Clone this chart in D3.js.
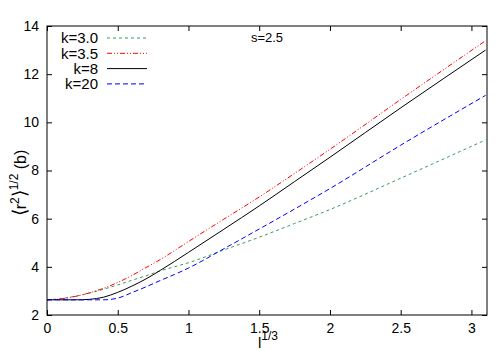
<!DOCTYPE html>
<html>
<head>
<meta charset="utf-8">
<script src="https://cdn.jsdelivr.net/npm/d3@7"></script>
<style>
  html, body { margin: 0; padding: 0; background: #fff; }
  svg { display: block; font-family: "Liberation Sans", Arial, sans-serif; }
</style>
</head>
<body>
<div id="chart"></div>
<script>
// values
const xs     = [0, 0.1, 0.2, 0.3, 0.4, 0.5, 0.6, 0.7, 0.8, 0.9, 1.0, 1.25, 1.5, 1.75, 2.0, 2.5, 3.1];
const k30    = [2.63, 2.68, 2.78, 2.91, 3.07, 3.25, 3.44, 3.63, 3.83, 4.00, 4.17, 4.70, 5.23, 5.80, 6.38, 7.68, 9.27];
const k35    = [2.63, 2.67, 2.77, 2.92, 3.11, 3.35, 3.64, 3.97, 4.30, 4.67, 5.05, 5.98, 6.90, 7.88, 8.88, 10.95, 13.39];
const k8     = [2.63, 2.63, 2.63, 2.65, 2.74, 2.94, 3.20, 3.50, 3.85, 4.22, 4.60, 5.56, 6.53, 7.54, 8.55, 10.60, 13.00];
const k20    = [2.63, 2.63, 2.63, 2.63, 2.63, 2.70, 2.93, 3.17, 3.43, 3.68, 3.95, 4.75, 5.57, 6.40, 7.25, 9.05, 11.12];
const seriesNames = ["k=3.0", "k=3.5", "k=8", "k=20"];
const xTicks = [0, 0.5, 1, 1.5, 2, 2.5, 3];
const yTicks = [2, 4, 6, 8, 10, 12, 14];

const dims = { width: 500, height: 350,
               margin: { top: 26, right: 13, bottom: 35, left: 47 } };

const styles = [
  { color: "#3a9a5e", dash: "3,3" },
  { color: "#ff0000", dash: "5,2,1,2,1,2" },
  { color: "#000000", dash: null },
  { color: "#0000ff", dash: "5,3" }
];
const allSeries = [k30, k35, k8, k20];

const svg = d3.select("#chart").append("svg")
  .attr("width", dims.width)
  .attr("height", dims.height);

const x = d3.scaleLinear()
  .domain([0, 3.11])
  .range([dims.margin.left, dims.width - dims.margin.right]);
const y = d3.scaleLinear()
  .domain([2, 14])
  .range([dims.height - dims.margin.bottom, dims.margin.top]);

const xRange = x.range(), yRange = y.range();
const chartWidth = xRange[1] - xRange[0];
const chartHeight = yRange[0] - yRange[1];

// axes (gnuplot style: inward ticks, mirrored)
let tickLen = 5;
svg.append("g")
  .attr("transform", `translate(0,${yRange[0]})`)
  .call(d3.axisBottom(x).tickValues(xTicks).tickFormat(d3.format("")).tickSize(-tickLen).tickPadding(8))
  .call(g => g.select(".domain").remove())
  .call(g => g.selectAll("text").attr("font-size", 14).attr("fill", "#000"));
svg.append("g")
  .attr("transform", `translate(0,${yRange[1]})`)
  .call(d3.axisTop(x).tickValues(xTicks).tickFormat("").tickSize(-tickLen))
  .call(g => g.select(".domain").remove());
svg.append("g")
  .attr("transform", `translate(${xRange[0]},0)`)
  .call(d3.axisLeft(y).tickValues(yTicks).tickSize(-tickLen).tickPadding(8))
  .call(g => g.select(".domain").remove())
  .call(g => g.selectAll("text").attr("font-size", 14).attr("fill", "#000"));
svg.append("g")
  .attr("transform", `translate(${xRange[1]},0)`)
  .call(d3.axisRight(y).tickValues(yTicks).tickFormat("").tickSize(-tickLen))
  .call(g => g.select(".domain").remove());
svg.selectAll(".tick line").attr("stroke", "#000");

// lines
let line = d3.line()
  .x((d, i) => x(xs[i]))
  .y(d => y(d))
  .curve(d3.curveMonotoneX);

allSeries.forEach((s, i) => {
  svg.append("path")
    .datum(s)
    .attr("fill", "none")
    .attr("stroke", styles[i].color)
    .attr("stroke-width", 1)
    .attr("stroke-dasharray", styles[i].dash)
    .attr("d", line);
});

// border
svg.append("rect")
  .attr("x", xRange[0]).attr("y", yRange[1])
  .attr("width", chartWidth).attr("height", chartHeight)
  .attr("fill", "none").attr("stroke", "#000").attr("stroke-width", 1);

// legend
let legend = svg.append("g").attr("class", "legend");
seriesNames.forEach((name, i) => {
  let ly = 38 + i * 15.3;
  legend.append("text")
    .attr("x", 98).attr("y", ly)
    .attr("dy", "0.35em")
    .attr("text-anchor", "end")
    .attr("font-size", 15)
    .text(name);
  legend.append("line")
    .attr("x1", 107).attr("x2", 147)
    .attr("y1", ly).attr("y2", ly)
    .attr("stroke", styles[i].color)
    .attr("stroke-width", 1)
    .attr("stroke-dasharray", styles[i].dash);
});

svg.append("text")
  .attr("x", 267).attr("y", 42)
  .attr("text-anchor", "middle")
  .attr("font-size", 13)
  .text("s=2.5");

// x label: l^{1/3}
let xl = svg.append("text")
  .attr("x", 258).attr("y", 348)
  .attr("font-size", 15);
xl.append("tspan").text("l");
xl.append("tspan").attr("dy", -8).attr("font-size", 12).text("1/3");

// y label: <r^2>^{1/2} (b)
let yl = svg.append("text")
  .attr("transform", "translate(26,183) rotate(-90)")
  .attr("text-anchor", "middle")
  .attr("font-size", 16);
yl.append("tspan").attr("font-size", 19).text("\u27E8");
yl.append("tspan").text("r");
yl.append("tspan").attr("dy", -7).attr("font-size", 12).text("2");
yl.append("tspan").attr("dy", 7).attr("font-size", 19).text("\u27E9");
yl.append("tspan").attr("dy", -8).attr("font-size", 12).text("1/2");
yl.append("tspan").attr("dy", 8).text(" (b)");
</script>
</body>
</html>
